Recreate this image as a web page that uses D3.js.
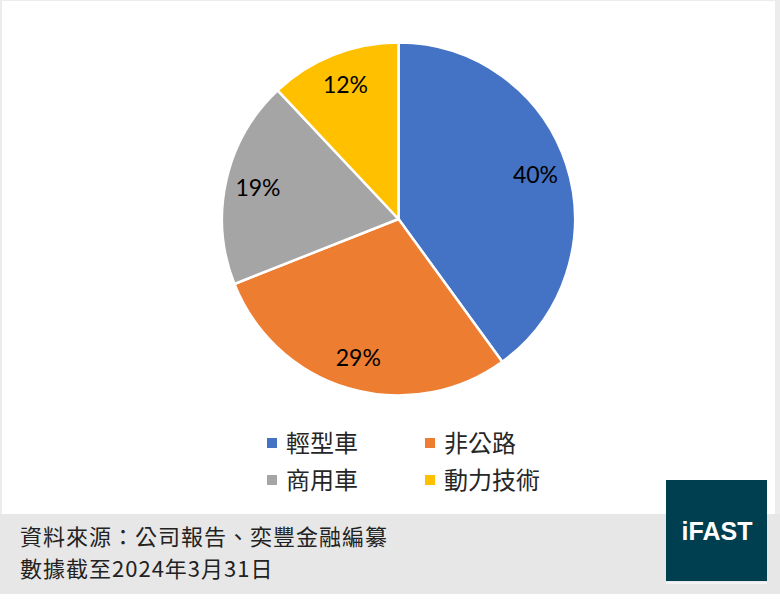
<!DOCTYPE html>
<html>
<head>
<meta charset="utf-8">
<script src="https://cdn.jsdelivr.net/npm/d3@7"></script>
<style>
  body { margin: 0; background: #fff; }
  svg { display: block; }
</style>
</head>
<body>
<svg id="chart"></svg>
<script>
const categories = ["輕型車", "非公路", "商用車", "動力技術"];
const shares = [40, 29, 19, 12];
const colors = ["#4472C4", "#ED7D31", "#A5A5A5", "#FFC000"];
const sourceLines = ["資料來源：公司報告、奕豐金融編纂", "數據截至2024年3月31日"];

const width = 780;
const height = 611;
const cjk = "'Noto Sans CJK TC', 'Noto Sans CJK SC', sans-serif";

const svg = d3.select("#chart")
    .attr("width", width)
    .attr("height", height);

// light frame around the chart area
svg.append("rect")
    .attr("x", 0).attr("y", 0)
    .attr("width", width).attr("height", 515)
    .attr("fill", "#ececec");
svg.append("rect")
    .attr("x", 2).attr("y", 1)
    .attr("width", 773).attr("height", 513)
    .attr("fill", "#fff");

// footer band
svg.append("rect")
    .attr("x", 0).attr("y", 514)
    .attr("width", width).attr("height", 80)
    .attr("fill", "#e7e7e7");

const cx = 398.5, cy = 219, radius = 176.5;

const pie = d3.pie().sort(null).value(d => d);
const arc = d3.arc().innerRadius(0).outerRadius(radius);
const labelArc = d3.arc().innerRadius(144).outerRadius(144);

const g = svg.append("g").attr("transform", `translate(${cx},${cy})`);
const slices = pie(shares);

g.selectAll("path")
    .data(slices)
    .enter()
    .append("path")
    .attr("d", arc)
    .attr("fill", (d, i) => colors[i])
    .attr("stroke", "#fff")
    .attr("stroke-width", 2.5)
    .attr("stroke-linejoin", "round");

g.selectAll(".lbl")
    .data(slices)
    .enter()
    .append("text")
    .attr("class", "lbl")
    .attr("transform", d => `translate(${labelArc.centroid(d)})`)
    .attr("text-anchor", "middle")
    .attr("dy", "0.36em")
    .style("font-family", "Lato, 'Open Sans', sans-serif")
    .style("font-size", "23px")
    .style("fill", "#000")
    .text(d => d.data + "%");

// legend, two columns x two rows
const legend = svg.append("g");
const colX = [267, 425];
const rowY = [443, 480];
categories.forEach((name, i) => {
    const x = colX[i % 2], y = rowY[Math.floor(i / 2)];
    legend.append("rect")
        .attr("x", x).attr("y", y - 5)
        .attr("width", 10).attr("height", 10)
        .attr("fill", colors[i]);
    legend.append("text")
        .attr("x", x + 19).attr("y", y)
        .attr("dy", "0.36em")
        .style("font-family", cjk)
        .style("font-size", "24px")
        .style("fill", "#262626")
        .text(name);
});

// source note
sourceLines.forEach((line, i) => {
    svg.append("text")
        .attr("x", 20).attr("y", 537 + i * 32)
        .attr("dy", "0.36em")
        .style("font-family", cjk)
        .style("font-size", "22px")
        .style("letter-spacing", "1px")
        .style("fill", "#222")
        .text(line);
});

// logo
svg.append("rect")
    .attr("x", 666).attr("y", 582)
    .attr("width", 101).attr("height", 2)
    .attr("fill", "#f4f4f4");
svg.append("rect")
    .attr("x", 666).attr("y", 480)
    .attr("width", 101).attr("height", 101)
    .attr("fill", "#003F50");
svg.append("text")
    .attr("x", 717).attr("y", 540)
    .attr("text-anchor", "middle")
    .style("font-family", "'Liberation Sans', Arial, sans-serif")
    .style("font-weight", "bold")
    .style("font-size", "25px")
    .style("fill", "#fff")
    .text("iFAST");
</script>
</body>
</html>
